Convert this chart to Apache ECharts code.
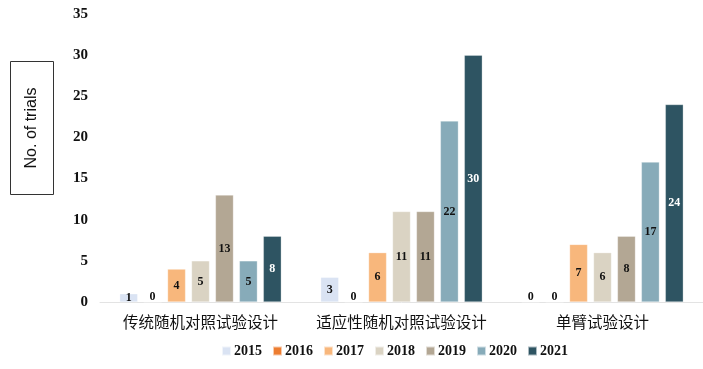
<!DOCTYPE html>
<html><head><meta charset="utf-8">
<script src="https://cdn.jsdelivr.net/npm/echarts@6/dist/echarts.min.js"></script>
<style>html,body{margin:0;padding:0;background:#fff}#c{width:703px;height:369px}</style>
</head><body><div id="c"></div>
<script>
const categories = ['传统随机对照试验设计', '适应性随机对照试验设计', '单臂试验设计'];
const years = ['2015', '2016', '2017', '2018', '2019', '2020', '2021'];
const v2015 = [1, 3, 0];
const v2016 = [0, 0, 0];
const v2017 = [4, 6, 7];
const v2018 = [5, 11, 6];
const v2019 = [13, 11, 8];
const v2020 = [5, 22, 17];
const v2021 = [8, 30, 24];
const yTicks = [0, 5, 10, 15, 20, 25, 30, 35];

const values = [v2015, v2016, v2017, v2018, v2019, v2020, v2021];
const colors = ['#dae3f3', '#ed7d31', '#f8b77c', '#dad3c3', '#b3a794', '#87abb9', '#2e5462'];
const labelColors = ['#111', '#111', '#111', '#111', '#111', '#111', '#fff'];

const chart = echarts.init(document.getElementById('c'));
chart.setOption({
  animation: false,
  grid: { left: 100, top: 14, width: 606, bottom: 67, containLabel: false },
  legend: {
    left: 216, top: 339, itemWidth: 9, itemHeight: 9, itemGap: 10,
    icon: 'rect',
    textStyle: { fontFamily: 'Liberation Serif', fontWeight: 'bold', fontSize: 14, color: '#111', padding: [0, 0, 0, -2] },
    data: years
  },
  xAxis: {
    type: 'category', data: categories,
    axisLine: { lineStyle: { color: '#e3e3e3', width: 1 } },
    axisTick: { show: false },
    axisLabel: { interval: 0, hideOverlap: false, fontFamily: 'Noto Sans CJK SC', fontSize: 15.5, color: '#111', margin: 12 }
  },
  yAxis: {
    type: 'value', min: 0, max: 35, interval: 5,
    axisLine: { show: false }, axisTick: { show: false }, splitLine: { show: false },
    axisLabel: {
      margin: 12, fontFamily: 'Liberation Serif', fontWeight: 'bold', fontSize: 15, color: '#111',
      formatter: v => yTicks.includes(v) ? String(v) : ''
    }
  },
  graphic: [
    { type: 'rect', shape: { x: 10.5, y: 61.5, width: 43, height: 133 }, style: { fill: 'none', stroke: '#333', lineWidth: 1 } },
    { type: 'text', x: 32, y: 128, rotation: Math.PI / 2, style: { text: 'No. of trials', font: '16px "Liberation Sans"', fill: '#111', align: 'center', verticalAlign: 'middle' } }
  ],
  series: years.map((y, i) => ({
    name: y, type: 'bar',
    barWidth: 18, barGap: '33%',
    itemStyle: { color: colors[i], borderColor: 'rgba(255,255,255,0.6)', borderWidth: 0.5 },
    label: {
      show: true, position: 'inside',
      fontFamily: 'Liberation Serif', fontWeight: 'bold', fontSize: 12, color: labelColors[i]
    },
    data: values[i].map(v => v === 0 ? { value: v, label: { position: 'top', color: '#111', offset: [0, 6] } } : v)
  }))
});
</script></body></html>
